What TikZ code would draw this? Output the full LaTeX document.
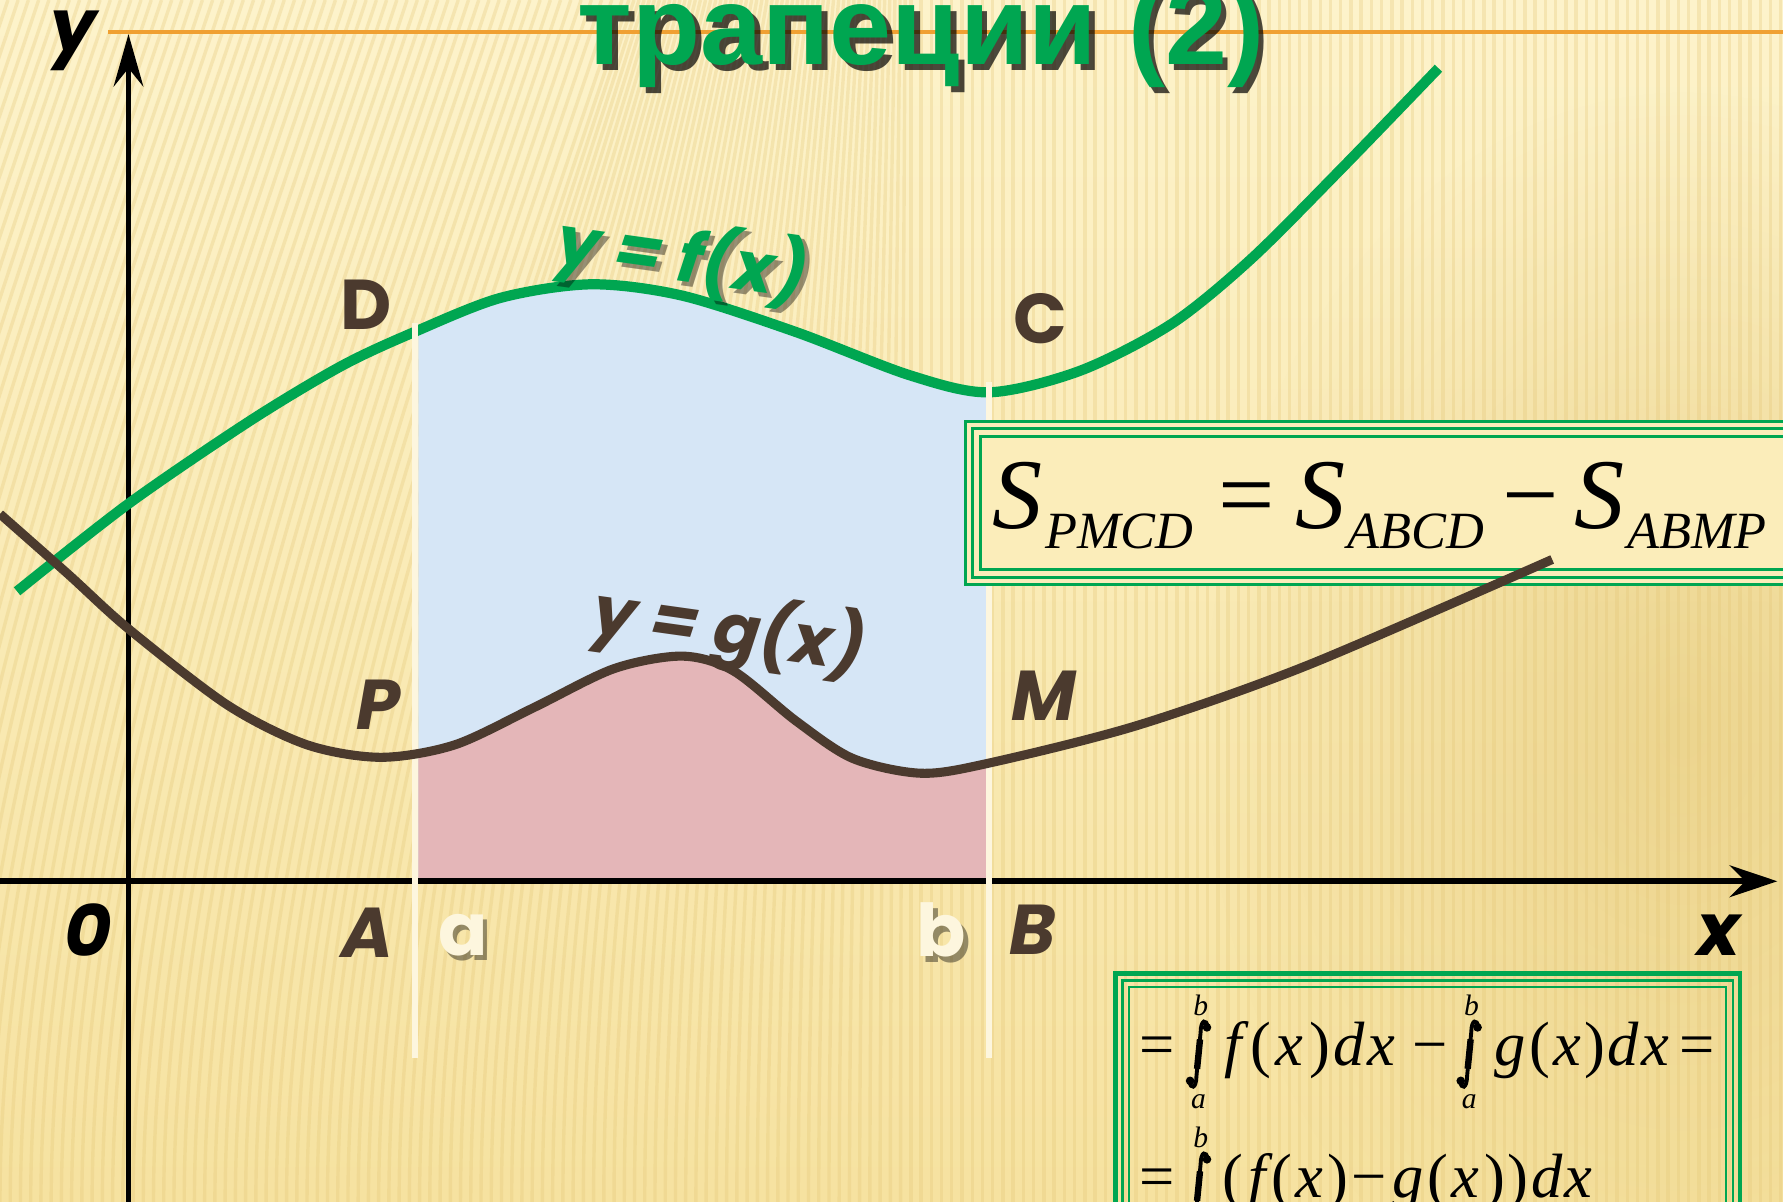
\documentclass[tikz,border=0pt]{standalone}
\usepackage{fontspec}
\setmainfont{Liberation Serif}
\newfontfamily\titlefont{Liberation Sans}
\newfontfamily\gothic{Poppins}
\usetikzlibrary{arrows.meta,fadings}
\tikzfading[name=softblob, inner color=transparent!0, outer color=transparent!100]
\definecolor{bgtop}{RGB}{253,243,203}
\definecolor{bgbot}{RGB}{246,226,160}
\definecolor{bgmid}{RGB}{251,237,186}
\definecolor{stripec}{RGB}{228,198,118}
\definecolor{tanc}{RGB}{228,200,120}
\definecolor{grn}{RGB}{0,166,81}
\definecolor{brn}{RGB}{75,58,46}
\definecolor{bluef}{RGB}{214,230,246}
\definecolor{pinkf}{RGB}{228,182,184}
\definecolor{orangec}{RGB}{240,160,50}
\definecolor{whitec}{RGB}{253,246,222}
\newcommand\gp[1]{\hspace{#1pt}}
\tikzset{
  stripe/.style={stripec, line width=3pt, opacity=0.3},
  axisline/.style={black, line width=5pt},
  fcurve/.style={grn, line width=9pt},
  gcurve/.style={brn, line width=8pt},
  cutline/.style={whitec, line width=5pt},
  ptlabel/.style={brn, font=\gothic\bfseries\fontsize{62}{62}\selectfont, inner sep=0pt},
  ptlabelit/.style={ptlabel, font=\gothic\bfseries\itshape\fontsize{62}{62}\selectfont},
  blabel/.style={black, font=\gothic\bfseries\itshape\fontsize{64}{64}\selectfont, inner sep=0pt},
  wlabel/.style={whitec, font=\gothic\bfseries\fontsize{64}{64}\selectfont, inner sep=0pt},
  shlabel/.style={black, opacity=0.4, font=\gothic\bfseries\fontsize{64}{64}\selectfont, inner sep=0pt},
  frame/.style={grn},
  titlestyle/.style={font=\titlefont\bfseries\fontsize{98}{98}\selectfont, inner sep=0pt, anchor=base},
  formula/.style={black, inner sep=0pt, anchor=base west, font=\fontsize{55}{55}\selectfont},
  limit/.style={black, inner sep=0pt, anchor=base, font=\itshape\fontsize{26}{26}\selectfont},
  intsign/.pic={
    \draw[black, line width=3.4pt] (8,-24) .. controls (7,-31) and (2,-31) .. (1.8,-19) -- (-1.8,19) .. controls (-2,31) and (-7,31) .. (-8,24);
    \draw[black, line width=5.6pt] (1.3,-13) -- (-1.3,13);
    \fill[black] (7.4,-23.5) circle (3.8pt);
    \fill[black] (-7.4,23.5) circle (3.8pt);
  }
}
\begin{document}
\begin{tikzpicture}[x=1pt,y=-1pt]
\useasboundingbox (0,0) rectangle (1568,1057);
% background
\shade[top color=bgtop, bottom color=bgbot] (0,0) rectangle (1568,1057);
\fill[tanc, path fading=softblob, opacity=0.6] (1480,640) ellipse [x radius=420, y radius=560];
\foreach \i in {-30,...,175} {
  \pgfmathsetmacro\xa{\i*9}
  \pgfmathsetmacro\xb{\xa+250*min(1,max(0,(800-\xa)/500))}
  \pgfmathsetmacro\xc{\xb-0.4*(\xb-\xa)}
  \draw[stripe] (\xa,1057) .. controls (\xa,700) and (\xc,300) .. (\xb,0);
}
% orange rule
\coordinate (orl) at (95,28);
\coordinate (orr) at (1568,28);
\draw[orangec, line width=3.5pt] (orl) -- (orr);
% title
\node[titlestyle, black, opacity=0.7] (titlesh) at (815,62) {трапеции (2)};
\node[titlestyle, grn] (title) at (810,57) {трапеции (2)};
% fills
\def\fpts{(15,520) (113,443) (220,370) (300,322) (362,293) (440,262) (520,250) (600,260) (700,292) (800,330) (870,345) (950,326) (1030,285) (1100,228) (1180,148) (1265,60)}
\def\gpts{(0,452) (60,505) (113,553) (200,620) (270,655) (335,666) (400,655) (470,622) (540,588) (600,577) (645,590) (700,634) (750,667) (810,680) (870,671) (1000,638) (1150,585) (1365,492)}
\begin{scope}
\clip (368,0) rectangle (868,775);
\fill[bluef] plot[smooth, tension=0.5] coordinates {\fpts} -- (1300,1057) -- (0,1057) -- cycle;
\fill[pinkf] plot[smooth, tension=0.5] coordinates {\gpts} -- (1400,1057) -- (0,1057) -- cycle;
\end{scope}
% axes
\coordinate (xl) at (0,775);
\coordinate (xr) at (1563,775);
\coordinate (yb) at (113,1057);
\coordinate (yt) at (113,30);
\draw[axisline, -{Stealth[length=42pt,width=28pt,inset=14pt]}] (xl) -- (xr);
\draw[axisline, -{Stealth[length=46pt,width=26pt,inset=16pt]}] (yb) -- (yt);
% f curve
\draw[fcurve] plot[smooth, tension=0.5] coordinates {\fpts};
% cut lines
\coordinate (a1) at (365,284);
\coordinate (a2) at (365,930);
\coordinate (b1) at (870,336);
\coordinate (b2) at (870,930);
\draw[cutline] (a1) -- (a2);
\draw[cutline] (b1) -- (b2);
% box 1
\fill[bgmid] (848,370) rectangle (1580,515);
\draw[frame, line width=2.5pt] (849,371) rectangle (1590,514);
\draw[frame, line width=3pt] (855,377) rectangle (1590,508);
\draw[frame, line width=3pt] (862,384) rectangle (1590,501);
\node[formula, font=\fontsize{88}{88}\selectfont] (s1) at (873,465) {\itshape S\hspace{2pt}\raisebox{-17pt}{\fontsize{46}{46}\selectfont PMCD}\hspace{22pt}\upshape =\hspace{18pt}\itshape S\hspace{2pt}\raisebox{-17pt}{\fontsize{46}{46}\selectfont ABCD}\hspace{16pt}\upshape −\hspace{14pt}\itshape S\hspace{2pt}\raisebox{-17pt}{\fontsize{46}{46}\selectfont ABMP}};
% g curve
\draw[gcurve] plot[smooth, tension=0.5] coordinates {\gpts};
% box 2
\draw[frame, line width=4pt] (981,856) rectangle (1530,1080);
\draw[frame, line width=2.5pt] (987,862) rectangle (1524,1080);
\draw[frame, line width=2pt] (993,868) rectangle (1518,1080);
% line 1
\node[formula] (eqa) at (1002,937) {=};
\pic at (1054,927) {intsign};
\node[limit] (ba) at (1056,893) {b};
\node[limit] (aa) at (1054,975) {a};
\node[formula] (fpart) at (1077,937) {\itshape f\gp{7}\upshape (\gp{4}\itshape x\gp{5}\upshape )\gp{3}\itshape d\gp{3}x};
\node[formula] (minusa) at (1242,937) {−};
\pic at (1292,927) {intsign};
\node[limit] (bb) at (1294,893) {b};
\node[limit] (ab) at (1292,975) {a};
\node[formula] (gpart) at (1314,937) {\itshape g\gp{3}\upshape (\gp{3}\itshape x\gp{3}\upshape )\gp{2}\itshape d\gp{2}x};
\node[formula] (eqb) at (1477,937) {=};
% line 2
\node[formula] (eqc) at (1002,1053) {=};
\pic at (1054,1043) {intsign};
\node[limit] (bc) at (1056,1009) {b};
\node[formula] (diffpart) at (1075,1053) {(\gp{4}\itshape f\gp{5}\upshape (\gp{3}\itshape x\gp{4}\upshape )\gp{3}−\gp{5}\itshape g\gp{3}\upshape (\gp{3}\itshape x\gp{4}\upshape )\gp{2})\gp{3}\itshape d\gp{2}x};
% labels
\node[blabel] (ylab) at (65,36) {y};
\node[blabel] (xlab) at (1512,822) {x};
\node[blabel] (olab) at (78,818) {0};
\node[ptlabel] (D) at (322,268) {D};
\node[ptlabel] (C) at (915,280) {C};
\node[ptlabelit] (P) at (333,620) {P};
\node[ptlabelit] (M) at (918,612) {M};
\node[ptlabelit] (A) at (323,820) {A};
\node[ptlabelit] (B) at (908,818) {B};
\node[shlabel] (ash) at (411,827) {a};
\node[wlabel] (a) at (407,822) {a};
\node[shlabel] (bsh) at (832,823) {b};
\node[wlabel] (b) at (828,818) {b};
\node[black, opacity=0.4, rotate=-8, inner sep=0pt, font=\gothic\bfseries\itshape\fontsize{60}{60}\selectfont] (flabsh) at (604,232) {y = f(x)};
\node[grn, rotate=-8, inner sep=0pt, font=\gothic\bfseries\itshape\fontsize{60}{60}\selectfont] (flab) at (600,228) {y = f(x)};
\node[brn, rotate=-8, inner sep=0pt, font=\gothic\bfseries\itshape\fontsize{60}{60}\selectfont] (glab) at (641,555) {y = g(x)};
\end{tikzpicture}
\end{document}
